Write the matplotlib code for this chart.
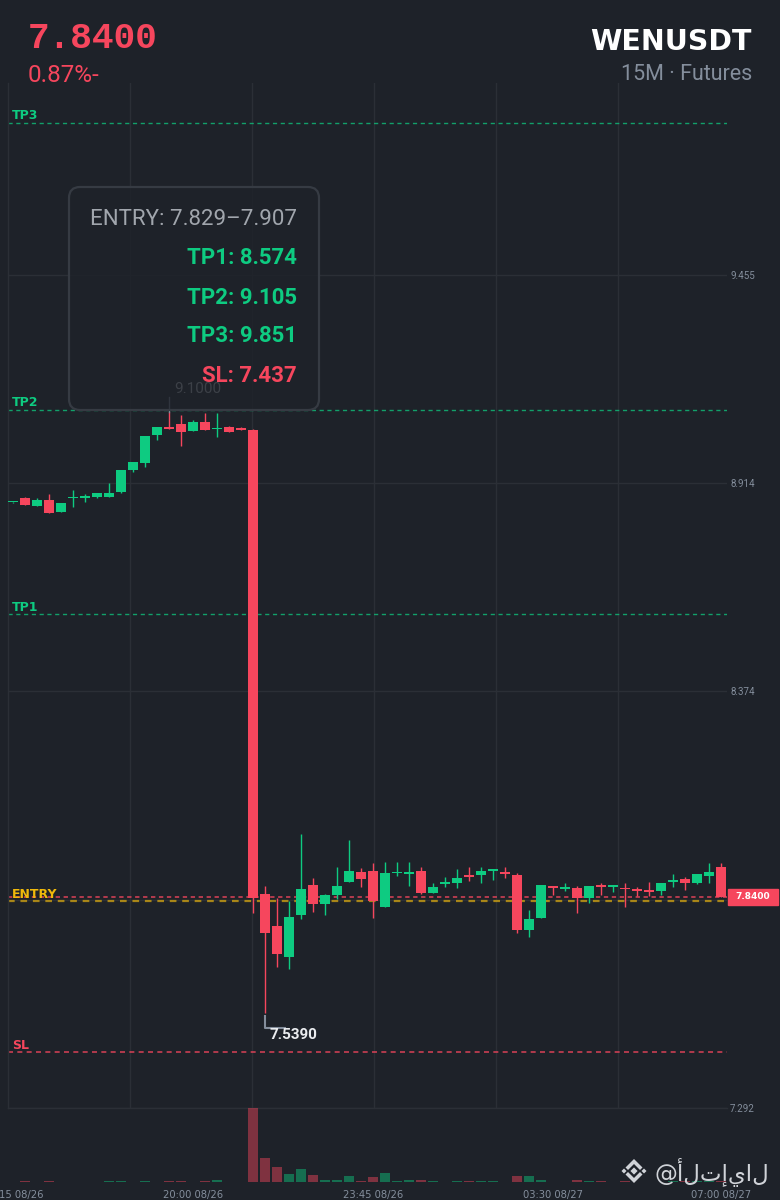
import numpy as np
import pandas as pd
import matplotlib
matplotlib.use("Agg")
import matplotlib.pyplot as plt
from matplotlib.patches import FancyBboxPatch, Polygon, Rectangle
from matplotlib.transforms import IdentityTransform, blended_transform_factory

# ---- data ----
opens = [8.865, 8.875, 8.855, 8.870, 8.841, 8.876, 8.877, 8.879, 8.879, 8.891,
         8.948, 8.967, 9.041, 9.061, 9.068, 9.049, 9.073, 9.055, 9.061, 9.055,
         9.053, 7.847, 7.764, 7.684, 7.793, 7.871, 7.822, 7.845, 7.880, 7.906,
         7.907, 7.815, 7.902, 7.901, 7.907, 7.850, 7.874, 7.876, 7.895, 7.897,
         7.908, 7.902, 7.896, 7.754, 7.786, 7.868, 7.860, 7.864, 7.838, 7.868,
         7.866, 7.864, 7.860, 7.856, 7.856, 7.879, 7.886, 7.877, 7.895, 7.919]
highs = [8.866, 8.879, 8.875, 8.887, 8.862, 8.896, 8.887, 8.888, 8.915, 8.948,
         8.970, 9.036, 9.061, 9.100, 9.091, 9.078, 9.097, 9.097, 9.063, 9.061,
         9.055, 7.868, 7.838, 7.830, 8.003, 7.889, 7.848, 7.918, 7.987, 7.915,
         7.927, 7.932, 7.932, 7.932, 7.918, 7.877, 7.892, 7.912, 7.918, 7.918,
         7.910, 7.918, 7.902, 7.805, 7.872, 7.868, 7.877, 7.868, 7.868, 7.877,
         7.872, 7.877, 7.866, 7.879, 7.877, 7.899, 7.892, 7.900, 7.927, 7.927]
lows = [8.864, 8.857, 8.855, 8.837, 8.841, 8.852, 8.865, 8.877, 8.879, 8.890,
        8.945, 8.956, 9.028, 9.056, 9.011, 9.049, 9.053, 9.035, 9.048, 9.052,
        7.799, 7.539, 7.658, 7.653, 7.784, 7.801, 7.793, 7.834, 7.880, 7.867,
        7.786, 7.815, 7.895, 7.868, 7.848, 7.850, 7.867, 7.864, 7.881, 7.877,
        7.883, 7.890, 7.747, 7.736, 7.786, 7.845, 7.855, 7.799, 7.825, 7.845,
        7.853, 7.815, 7.842, 7.842, 7.845, 7.866, 7.857, 7.875, 7.877, 7.840]
closes = [8.866, 8.857, 8.872, 8.837, 8.862, 8.879, 8.880, 8.888, 8.889, 8.948,
          8.969, 9.036, 9.060, 9.056, 9.048, 9.073, 9.053, 9.057, 9.048, 9.053,
          7.837, 7.747, 7.693, 7.788, 7.860, 7.821, 7.845, 7.868, 7.907, 7.888,
          7.829, 7.903, 7.904, 7.903, 7.851, 7.867, 7.876, 7.890, 7.893, 7.907,
          7.910, 7.900, 7.754, 7.782, 7.872, 7.864, 7.866, 7.838, 7.868, 7.866,
          7.868, 7.860, 7.856, 7.854, 7.877, 7.885, 7.877, 7.899, 7.906, 7.840]
volumes = [4, 8, 4, 12, 4, 3, 3, 5, 8, 8,
           4, 10, 5, 8, 8, 5, 10, 25, 5, 4,
           1000, 329, 198, 108, 176, 90, 23, 23, 86, 14,
           63, 117, 18, 32, 32, 9, 5, 14, 9, 18,
           9, 5, 86, 86, 32, 5, 5, 32, 9, 9,
           5, 9, 5, 5, 5, 9, 9, 9, 14, 14]
times = pd.date_range("2024-08-26 16:15", periods=len(opens), freq="15min")
time_tick_idx = [0, 15, 30, 45, 59]

price_ticks = [7.292, 7.833, 8.374, 8.914, 9.455]
price_tick_labels = ["7.292", "", "8.374", "8.914", "9.455"]

symbol = "WENUSDT"
subtitle = "15M · Futures"
last_price = 7.84
change_pct = -0.87
entry_low, entry_high = 7.829, 7.907
tp_names = ["TP1", "TP2", "TP3"]
tp_values = [8.574, 9.105, 9.851]
sl_value = 7.437
peak_idx, peak_price = 13, 9.100
low_idx, low_price = 21, 7.539
watermark = "@ألتإيال"

# ---- style ----
BG = "#1e2229"
GRID = "#2b2f36"
GREEN = "#0ecb81"
RED = "#f6465d"
YELLOW = "#f0b90b"
GREY = "#848e9c"

W, H = 780, 1200
plt.rcParams["font.family"] = ["DejaVu Sans"]
fig = plt.figure(figsize=(W / 100, H / 100), dpi=100, facecolor=BG)


def fx(px):
    return px / W


def fy(py):
    return 1 - py / H


ax = fig.add_axes([fx(8), fy(1108), (727 - 8) / W, (1108 - 83) / H])
vax = fig.add_axes([fx(8), fy(1182), (727 - 8) / W, (1182 - 1108) / H])
ax.set_facecolor(BG)
vax.set_facecolor("none")

x = np.arange(len(opens))
o = np.array(opens)
h = np.array(highs)
l = np.array(lows)
c = np.array(closes)
colors = np.where(c >= o, GREEN, RED)

xlim = (-0.44, 59.47)
ax.set_xlim(*xlim)
ax.set_ylim(7.292, 9.954)

# grid
ax.set_yticks(price_ticks)
ax.set_yticklabels(price_tick_labels)
ax.yaxis.tick_right()
ax.tick_params(axis="y", length=0, pad=2.2, labelsize=7, labelcolor=GREY)
for lbl in ax.get_yticklabels():
    lbl.set_fontfamily("Roboto")
ax.set_xticks([])
ax.grid(axis="y", color=GRID, lw=1, zorder=0)
for k in range(1, 6):
    f = k * 122 / 719
    ax.plot([f, f], [0, 1], transform=ax.transAxes, color=GRID, lw=1, zorder=0)
for s in ["top", "right"]:
    ax.spines[s].set_visible(False)
for s in ["left", "bottom"]:
    ax.spines[s].set_color(GRID)
    ax.spines[s].set_linewidth(1)

# candles
ax.vlines(x, l, h, colors=colors, lw=1, zorder=3)
body_bot = np.minimum(o, c)
body_h = np.maximum(np.abs(c - o), 0.004)
ax.bar(x, body_h, bottom=body_bot, width=0.82, color=colors, lw=0, zorder=4)

# level lines
blend = blended_transform_factory(ax.transAxes, ax.transData)
level_names = tp_names[::-1] + ["ENTRY", "SL"]
level_values = tp_values[::-1] + [entry_low, sl_value]
level_colors = [GREEN, GREEN, GREEN, YELLOW, RED]
level_alpha = [0.75, 0.75, 0.75, 0.65, 0.8]
level_lw = [1.0, 1.0, 1.0, 1.6, 1.2]
for name, val, col, a, lw in zip(level_names, level_values, level_colors, level_alpha, level_lw):
    ax.axhline(val, color=col, alpha=a, lw=lw, ls=(0, (3.0, 2.6)), zorder=2)
    ax.annotate(name, xy=(0, val), xycoords=blend, xytext=(3, 2.6),
                textcoords="offset points", va="baseline", ha="left",
                fontsize=9, fontweight="bold", color=col, zorder=5)

# last price line + box
ax.axhline(last_price, color=RED, alpha=0.75, lw=1.3, ls=(0, (2.4, 2.0)), zorder=2)
ax.add_patch(Rectangle((1.0014, last_price - 0.021), 0.0695, 0.042, transform=blend,
                       clip_on=False, color=RED, zorder=6))
ax.text(1.0014 + 0.0348, last_price, f"{last_price:.4f}", transform=blend,
        ha="center", va="center", fontsize=6.5, fontweight="bold", color="white",
        clip_on=False, zorder=7)

# peak / low markers
ax.plot([peak_idx, peak_idx], [peak_price, peak_price + 0.038], color=GREY, lw=1, zorder=3)
ax.text(peak_idx + 0.4, peak_price + 0.049, f"{peak_price:.4f}", ha="left", va="baseline",
        fontsize=11, family="Roboto", color="#c4c9d0", zorder=3)
ax.plot([low_idx, low_idx, low_idx + 1.65],
        [low_price - 0.008, low_price - 0.038, low_price - 0.038], color=GREY, lw=1.5, zorder=3)
ax.text(low_idx + 0.39, low_price - 0.068, f"{low_price:.4f}", ha="left", va="baseline",
        fontsize=11, family="Roboto", fontweight="bold", color="#eaecef", zorder=5)

# volume
vax.bar(x, volumes, width=0.82, color=colors, alpha=0.45, lw=0)
vax.set_xlim(*xlim)
vax.set_ylim(0, max(volumes))
vax.set_yticks([])
vax.set_xticks(time_tick_idx)
vax.set_xticklabels([times[i].strftime("%H:%M %m/%d") for i in time_tick_idx])
vax.tick_params(axis="x", length=0, pad=6, labelsize=7.2, labelcolor=GREY)
for s in vax.spines.values():
    s.set_visible(False)

# header
fig.text(fx(28), fy(48), f"{last_price:.4f}", ha="left", va="baseline", fontsize=26,
         family="Liberation Mono", fontweight="bold", color=RED)
fig.text(fx(28), fy(82), f"{abs(change_pct):.2f}%-", ha="left", va="baseline",
         fontsize=17.5, family="Roboto", color=RED)
fig.text(fx(752), fy(50), symbol, ha="right", va="baseline", fontsize=20.5,
         fontweight="bold", color="white")
fig.text(fx(752), fy(80), subtitle, ha="right", va="baseline", fontsize=15.5,
         family="Roboto", color=GREY)

# info box
box = FancyBboxPatch((69, H - 410), 250, 223, boxstyle="round,pad=0,rounding_size=11",
                     transform=IdentityTransform(), fc=(30 / 255, 34 / 255, 41 / 255, 0.82),
                     ec="#363b43", lw=1.6, zorder=2)
fig.add_artist(box)
info_lines = [f"ENTRY: {entry_low:.3f}–{entry_high:.3f}"] + \
             [f"{n}: {v:.3f}" for n, v in zip(tp_names, tp_values)] + [f"SL: {sl_value:.3f}"]
info_colors = ["#a1a6ad", GREEN, GREEN, GREEN, RED]
info_weights = ["normal", "bold", "bold", "bold", "bold"]
info_base = [225, 264, 304, 342, 382]
for txt, col, wt, yb in zip(info_lines, info_colors, info_weights, info_base):
    fig.text(fx(297), fy(yb), txt, ha="right", va="baseline", fontsize=16,
             family="Roboto", fontweight=wt, color=col, zorder=3)

# watermark: logo + handle
cx, cy = 634, H - 1171
WM = "#d0d3d8"
shapes = [
    [(-8.5, 3.5), (0, 12), (8.5, 3.5), (6, 1), (0, 7), (-6, 1)],
    [(-8.5, -3.5), (0, -12), (8.5, -3.5), (6, -1), (0, -7), (-6, -1)],
    [(-3.6, 0), (0, 3.6), (3.6, 0), (0, -3.6)],
    [(-12.5, 0), (-10, 2.5), (-7.5, 0), (-10, -2.5)],
    [(12.5, 0), (10, 2.5), (7.5, 0), (10, -2.5)],
]
for pts in shapes:
    fig.add_artist(Polygon([(cx + dx, cy + dy) for dx, dy in pts], closed=True,
                           transform=IdentityTransform(), fc=WM, ec="none", zorder=4))
fig.text(fx(655), fy(1181), watermark, ha="left", va="baseline", fontsize=16.5,
         family="DejaVu Sans", color=WM, zorder=4)

fig.savefig("out.png", dpi=100, facecolor=BG)
